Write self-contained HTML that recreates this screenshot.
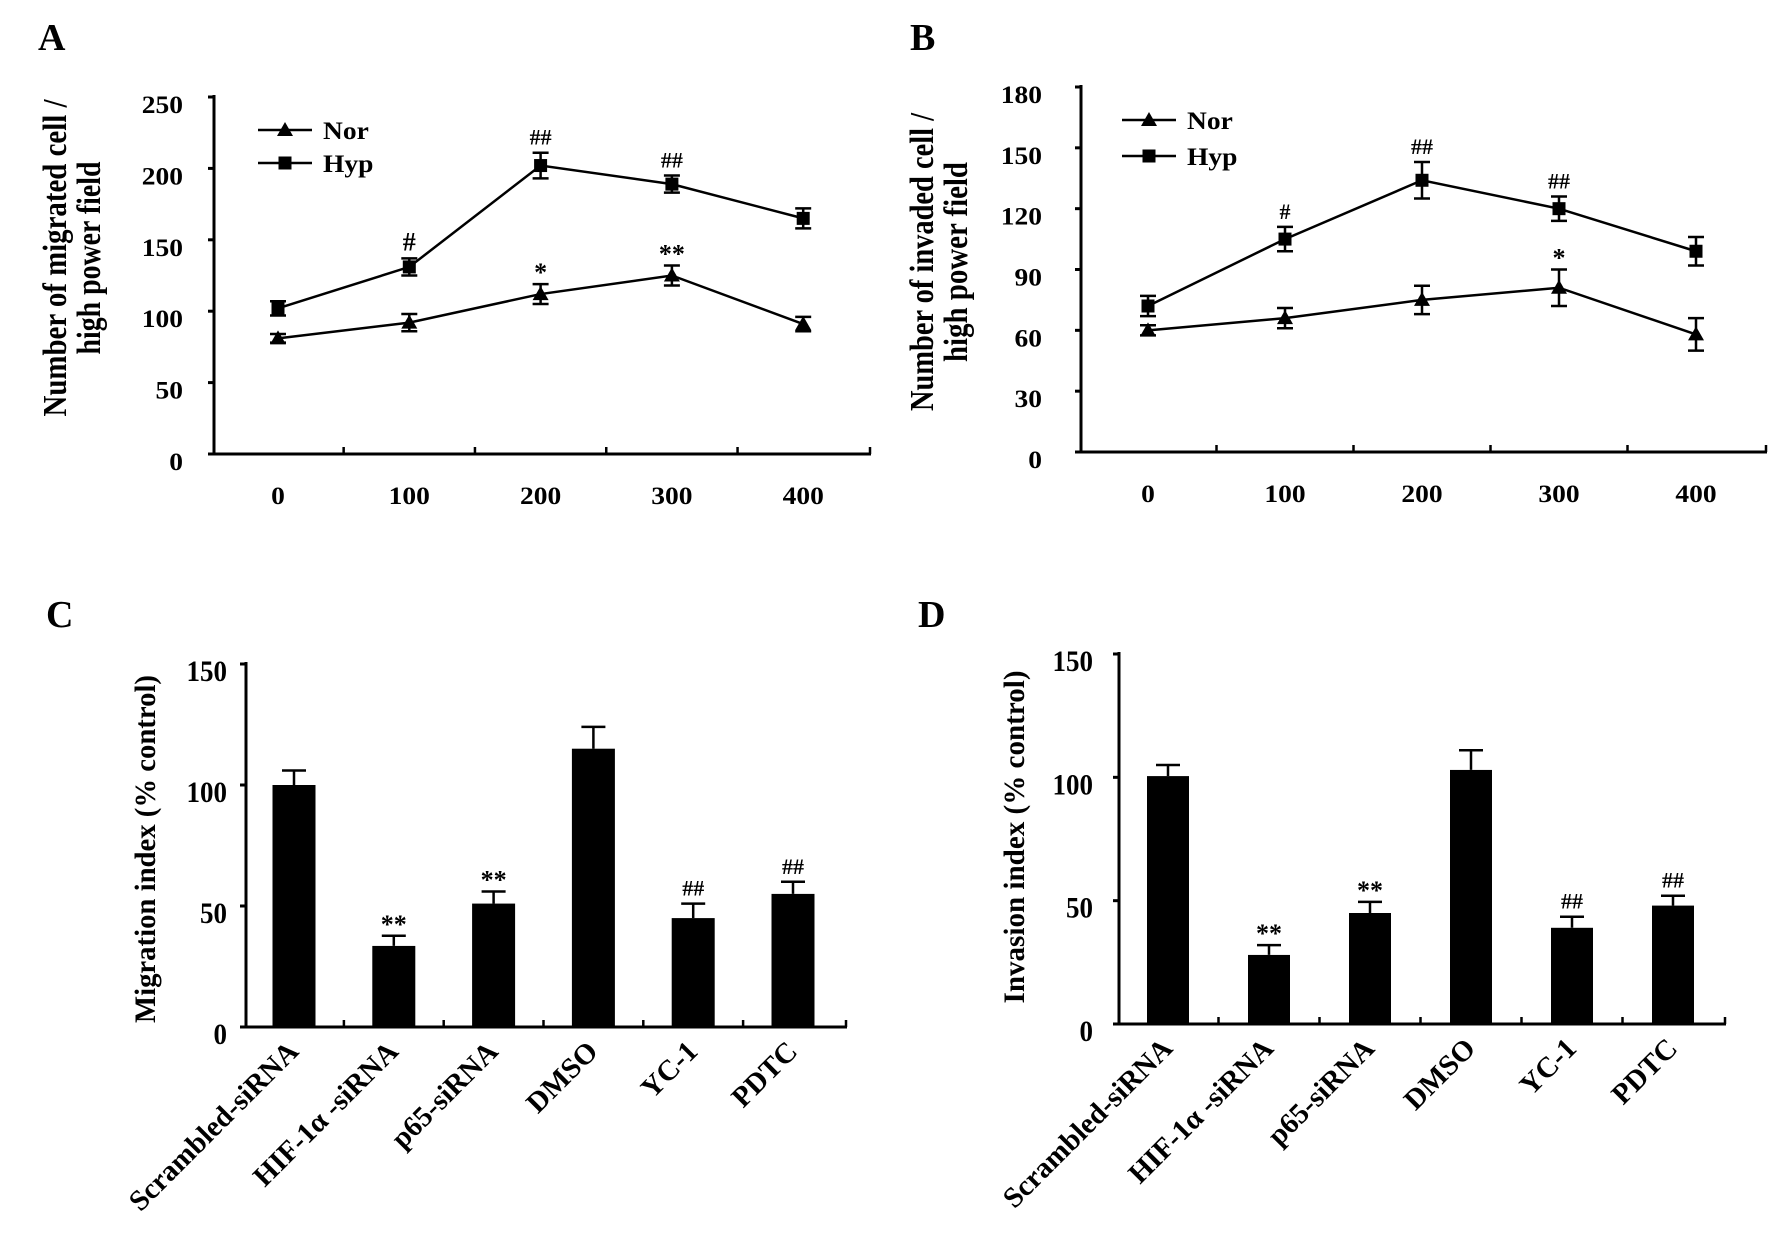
<!DOCTYPE html>
<html><head><meta charset="utf-8"><style>
html,body{margin:0;padding:0;background:#fff;}
svg{display:block;}
text{font-family:"Liberation Serif",serif;font-weight:bold;fill:#000;}
</style></head><body>
<svg id="fig" width="1772" height="1238" viewBox="0 0 1772 1238" xmlns="http://www.w3.org/2000/svg"></svg>
<script>
// Panel A data
const catsA = [0, 100, 200, 300, 400];
const norA = [81, 92, 112, 125, 91];
const norErrA = [3, 6, 7, 7, 5];
const hypA = [102, 131, 202, 189, 165];
const hypErrA = [5, 6, 9, 6, 7];
const ticksA = [0, 50, 100, 150, 200, 250];
const annTextA = ['#', '##', '##', '*', '**'];
const annSeriesA = ['hyp', 'hyp', 'hyp', 'nor', 'nor'];
const annIdxA = [1, 2, 3, 2, 3];
// Panel B data
const catsB = [0, 100, 200, 300, 400];
const norB = [60, 66, 75, 81, 58];
const norErrB = [2.5, 5, 7, 9, 8];
const hypB = [72, 105, 134, 120, 99];
const hypErrB = [5, 6, 9, 6, 7];
const ticksB = [0, 30, 60, 90, 120, 150, 180];
const annTextB = ['#', '##', '##', '*'];
const annSeriesB = ['hyp', 'hyp', 'hyp', 'nor'];
const annIdxB = [1, 2, 3, 3];
// Panel C data
const groupsC = ['Scrambled-siRNA', 'HIF-1\u03b1 -siRNA', 'p65-siRNA', 'DMSO', 'YC-1', 'PDTC'];
const valsC = [100, 33.5, 51, 115, 45, 55];
const errC = [6, 4.2, 5, 9, 6, 5];
const annC = ['', '**', '**', '', '##', '##'];
const ticksC = [0, 50, 100, 150];
// Panel D data
const groupsD = ['Scrambled-siRNA', 'HIF-1\u03b1 -siRNA', 'p65-siRNA', 'DMSO', 'YC-1', 'PDTC'];
const valsD = [100.5, 28, 45, 103, 39, 48];
const errD = [4.5, 4, 4.5, 8, 4.5, 4];
const annD = ['', '**', '**', '', '##', '##'];
const ticksD = [0, 50, 100, 150];

const NS = 'http://www.w3.org/2000/svg';
const svg = document.getElementById('fig');
function el(tag, attrs, parent) {
  const e = document.createElementNS(NS, tag);
  for (const k in attrs) e.setAttribute(k, attrs[k]);
  (parent || svg).appendChild(e);
  return e;
}
function txt(str, x, y, size, sx, anchor, parent, extra) {
  const t = el('text', Object.assign({x: 0, y: 0, 'font-size': size, 'text-anchor': anchor || 'middle',
    transform: 'translate(' + x + ',' + y + ') scale(' + sx + ',1)'}, extra || {}), parent);
  t.textContent = str;
  return t;
}
function annStyle(s) {
  if (s.indexOf('*') >= 0) return {size: 26, bold: true, off: -3};
  return {size: 22, bold: false, off: -8};
}

function lineChart(cfg) {
  const g = el('g', {});
  
  
  const yMax = cfg.ticks[cfg.ticks.length - 1];
  const Y = v => cfg.yBot - (v / yMax) * (cfg.yBot - cfg.yTop);
  const X = v => cfg.x0 + (v / 100) * cfg.step;
  const pl = txt(cfg.letter, cfg.letterX, cfg.letterY, 38, 1, 'start', g);
  
  
  const ya = el('line', {x1: cfg.ax, y1: cfg.yTop - 2, x2: cfg.ax, y2: cfg.yBot, stroke: '#000', 'stroke-width': 3}, g);
  
  
  const xa = el('line', {x1: cfg.ax - 1.5, y1: cfg.yBot, x2: cfg.xEnd, y2: cfg.yBot, stroke: '#000', 'stroke-width': 3}, g);
  
  
  cfg.ticks.forEach(v => {
    const tk = el('line', {x1: cfg.ax - 6, y1: Y(v), x2: cfg.ax, y2: Y(v), stroke: '#000', 'stroke-width': 3}, g);
    
    
    const tl = txt(String(v), cfg.ax - cfg.labGap, Y(v) + 16, 25, 1.1, 'end', g);
    
    
  });
  const cats = cfg.cats;
  for (let i = 0; i < cats.length; i++) {
    const xl = txt(String(cats[i]), X(cats[i]), cfg.yBot + 50, 25, 1.1, 'middle', g);
    
    
    const tx = X(cats[i]) + cfg.step / 2;
    if (tx < cfg.xEnd - 5) {
      const tk = el('line', {x1: tx, y1: cfg.yBot - 7, x2: tx, y2: cfg.yBot, stroke: '#000', 'stroke-width': 2.5}, g);
      
      
    }
  }
  const endTick = el('line', {x1: cfg.xEnd - 1, y1: cfg.yBot - 7, x2: cfg.xEnd - 1, y2: cfg.yBot, stroke: '#000', 'stroke-width': 2.5}, g);
  
  
  const tg = el('g', {transform: 'rotate(-90)'}, g);
  const t1 = el('text', {x: -cfg.titleCY, y: cfg.titleX1, 'font-size': 34, 'text-anchor': 'middle', textLength: cfg.len1, lengthAdjust: 'spacingAndGlyphs'}, tg);
  t1.textContent = cfg.title1;
  
  
  const t2 = el('text', {x: -cfg.titleCY, y: cfg.titleX2, 'font-size': 34, 'text-anchor': 'middle', textLength: cfg.len2, lengthAdjust: 'spacingAndGlyphs'}, tg);
  t2.textContent = cfg.title2;
  
  

  function series(vals, errs, marker, name) {
    const sg = el('g', {}, g);
    
    
    const pts = vals.map((v, i) => X(cats[i]) + ',' + Y(v)).join(' ');
    const pl = el('polyline', {points: pts, fill: 'none', stroke: '#000', 'stroke-width': 2.5}, sg);
    
    
    vals.forEach((v, i) => {
      const x = X(cats[i]);
      const e1 = el('path', {d: 'M' + x + ' ' + Y(v + errs[i]) + 'V' + Y(v - errs[i]) +
        'M' + (x - 8) + ' ' + Y(v + errs[i]) + 'H' + (x + 8) + 'M' + (x - 8) + ' ' + Y(v - errs[i]) + 'H' + (x + 8),
        stroke: '#000', 'stroke-width': 2.5, fill: 'none'}, sg);
      
      
      let m;
      if (marker === 'tri') m = el('path', {d: 'M' + x + ' ' + (Y(v) - 8) + 'L' + (x + 8) + ' ' + (Y(v) + 6) + 'L' + (x - 8) + ' ' + (Y(v) + 6) + 'Z', fill: '#000'}, sg);
      else m = el('rect', {x: x - 6.5, y: Y(v) - 6.5, width: 13, height: 13, fill: '#000'}, sg);
      
      
    });
  }
  series(cfg.nor, cfg.norErr, 'tri', 'nor');
  series(cfg.hyp, cfg.hypErr, 'sq', 'hyp');
  for (let k = 0; k < cfg.annText.length; k++) {
    const i = cfg.annIdx[k];
    const s = cfg.annSeries[k] === 'hyp' ? [cfg.hyp, cfg.hypErr] : [cfg.nor, cfg.norErr];
    const st = annStyle(cfg.annText[k]);
    const single = cfg.annText[k] === '#' && cfg.boldHash;
    const a = txt(cfg.annText[k], X(cats[i]), Y(s[0][i] + s[1][i]) + st.off, single ? 26 : st.size, 1, 'middle', g,
      {'font-weight': (st.bold || single) ? 'bold' : 'normal', fill: (st.bold || single) ? '#000' : '#333'});
    
    
  }
  const lg = el('g', {}, g);
  
  
  [['Nor', 'tri', cfg.legY1], ['Hyp', 'sq', cfg.legY2]].forEach(([lab, mk, ly]) => {
    const en = el('g', {}, lg);
    
    
    el('line', {x1: cfg.legX, y1: ly, x2: cfg.legX + 54, y2: ly, stroke: '#000', 'stroke-width': 2.5}, en);
    const cx = cfg.legX + 27;
    if (mk === 'tri') el('path', {d: 'M' + cx + ' ' + (ly - 8) + 'L' + (cx + 8) + ' ' + (ly + 6) + 'L' + (cx - 8) + ' ' + (ly + 6) + 'Z', fill: '#000'}, en);
    else el('rect', {x: cx - 6.5, y: ly - 6.5, width: 13, height: 13, fill: '#000'}, en);
    txt(lab, cfg.legX + 65, ly + 9, 25, 1.1, 'start', en);
  });
}

function barChart(cfg) {
  const g = el('g', {});
  
  
  const yMax = cfg.ticks[cfg.ticks.length - 1];
  const Y = v => cfg.yBot - (v / yMax) * (cfg.yBot - cfg.yTop);
  const X = i => cfg.x0 + i * cfg.step;
  const pl = txt(cfg.letter, cfg.letterX, cfg.letterY, 38, 1, 'start', g);
  
  
  const ya = el('line', {x1: cfg.ax, y1: cfg.yTop - 2, x2: cfg.ax, y2: cfg.yBot, stroke: '#000', 'stroke-width': 3}, g);
  
  
  const xa = el('line', {x1: cfg.ax - 1.5, y1: cfg.yBot, x2: cfg.xEnd, y2: cfg.yBot, stroke: '#000', 'stroke-width': 3}, g);
  
  
  cfg.ticks.forEach(v => {
    const tk = el('line', {x1: cfg.ax - 6, y1: Y(v), x2: cfg.ax, y2: Y(v), stroke: '#000', 'stroke-width': 3}, g);
    
    
    const tl = txt(String(v), cfg.ax - cfg.labGap, Y(v) + 17, 30, 0.9, 'end', g);
    
    
  });
  const tg = el('g', {transform: 'rotate(-90)'}, g);
  const t1 = el('text', {x: -cfg.titleCY, y: cfg.titleX, 'font-size': 30, 'text-anchor': 'middle', textLength: cfg.titleLen, lengthAdjust: 'spacingAndGlyphs'}, tg);
  t1.textContent = cfg.title;
  
  
  for (let i = 0; i < cfg.groups.length; i++) {
    const x = X(i), v = cfg.vals[i], e = cfg.err[i];
    const b = el('rect', {x: x - cfg.bw / 2, y: Y(v), width: cfg.bw, height: cfg.yBot - Y(v), fill: '#000'}, g);
    
    
    const eb = el('path', {d: 'M' + x + ' ' + Y(v) + 'V' + Y(v + e) + 'M' + (x - 12) + ' ' + Y(v + e) + 'H' + (x + 12),
      stroke: '#000', 'stroke-width': 2.5, fill: 'none'}, g);
    
    
    if (i > 0) {
      const tx = (X(i - 1) + x) / 2;
      const tk = el('line', {x1: tx, y1: cfg.yBot - 7, x2: tx, y2: cfg.yBot, stroke: '#000', 'stroke-width': 2.5}, g);
      
      
    }
    const cl = el('text', {x: 0, y: 0, 'font-size': 29, 'text-anchor': 'end',
      transform: 'translate(' + (x + 6) + ',' + (cfg.yBot + 26) + ') rotate(-45)'}, g);
    cl.textContent = cfg.groups[i];
    
    
    if (cfg.ann[i]) {
      const st = annStyle(cfg.ann[i]);
      const a = txt(cfg.ann[i], x, Y(v + e) + st.off, st.size, 1, 'middle', g,
        {'font-weight': st.bold ? 'bold' : 'normal', fill: st.bold ? '#000' : '#333'});
      
      
    }
  }
  const endTick = el('line', {x1: cfg.xEnd - 1, y1: cfg.yBot - 7, x2: cfg.xEnd - 1, y2: cfg.yBot, stroke: '#000', 'stroke-width': 2.5}, g);
  
  
}

lineChart({name: 'panel-a-migration-line-chart', letter: 'A', letterX: 38, letterY: 50,
  ax: 214, yTop: 97, yBot: 454, xEnd: 871, x0: 278, step: 131.3, labGap: 31,
  ticks: ticksA, cats: catsA, nor: norA, norErr: norErrA, hyp: hypA, hypErr: hypErrA,
  annText: annTextA, annSeries: annSeriesA, annIdx: annIdxA, boldHash: true,
  title1: 'Number of migrated cell /', title2: 'high power field', titleCY: 258, titleX1: 66, titleX2: 100, len1: 317, len2: 193,
  legX: 258, legY1: 130, legY2: 163});
lineChart({name: 'panel-b-invasion-line-chart', letter: 'B', letterX: 910, letterY: 50,
  ax: 1081, yTop: 87, yBot: 452, xEnd: 1767, x0: 1148, step: 137, labGap: 39,
  ticks: ticksB, cats: catsB, nor: norB, norErr: norErrB, hyp: hypB, hypErr: hypErrB,
  annText: annTextB, annSeries: annSeriesB, annIdx: annIdxB, boldHash: false,
  title1: 'Number of invaded cell /', title2: 'high power field', titleCY: 262, titleX1: 933, titleX2: 967, len1: 298, len2: 200,
  legX: 1122, legY1: 120, legY2: 156});
barChart({name: 'panel-c-migration-bar-chart', letter: 'C', letterX: 46, letterY: 627,
  ax: 246, yTop: 664, yBot: 1027, xEnd: 847, x0: 294, step: 99.8, bw: 43, labGap: 19,
  ticks: ticksC, groups: groupsC, vals: valsC, err: errC, ann: annC,
  title: 'Migration index (% control)', titleCY: 849, titleX: 155, titleLen: 348});
barChart({name: 'panel-d-invasion-bar-chart', letter: 'D', letterX: 918, letterY: 627,
  ax: 1119, yTop: 654, yBot: 1024, xEnd: 1726, x0: 1168, step: 101, bw: 42, labGap: 26,
  ticks: ticksD, groups: groupsD, vals: valsD, err: errD, ann: annD,
  title: 'Invasion index (% control)', titleCY: 837, titleX: 1024, titleLen: 333});
</script>
</body></html>
